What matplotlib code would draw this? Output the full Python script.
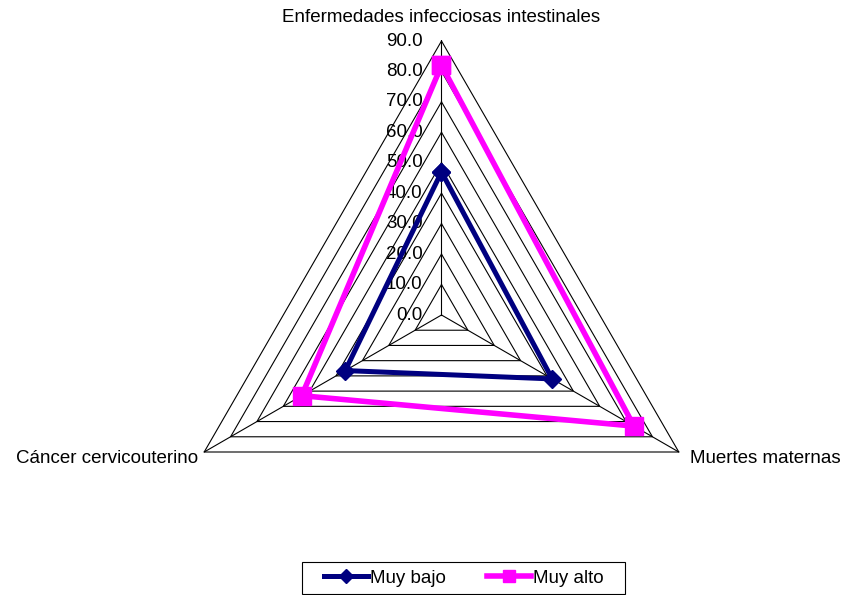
import numpy as np
import matplotlib
matplotlib.use("Agg")
import matplotlib.pyplot as plt
from matplotlib.patches import Rectangle

plt.rcParams['font.family'] = ['Liberation Sans', 'DejaVu Sans']

# Data
categories = ["Enfermedades infecciosas intestinales", "Muertes maternas", "Cáncer cervicouterino"]
muy_bajo = [47.0, 42.0, 36.5]
muy_alto = [82.0, 73.0, 53.0]
levels = [0, 10, 20, 30, 40, 50, 60, 70, 80, 90]
level_labels = ["0.0", "10.0", "20.0", "30.0", "40.0", "50.0", "60.0", "70.0", "80.0", "90.0"]
series_names = ["Muy bajo", "Muy alto"]

FS = 13.5
W, H = 842, 595
fig = plt.figure(figsize=(W / 100, H / 100), dpi=100)

cx, cy, R = 441.5, 315.0, 274.0
ax = fig.add_axes([(cx - R) / W, (H - cy - R) / H, 2 * R / W, 2 * R / H], projection='polar')
ax.set_theta_offset(np.pi / 2)
ax.set_theta_direction(-1)
ax.set_ylim(0, levels[-1])
ax.grid(False)
ax.set_xticks([])
ax.set_yticks([])
ax.spines['polar'].set_visible(False)
ax.patch.set_alpha(0)

n = len(categories)
theta = np.arange(n) * 2 * np.pi / n
theta_closed = np.append(theta, theta[0])

# Triangular grid
for lv in levels[1:]:
    ax.plot(theta_closed, [lv] * (n + 1), color='black', lw=0.8, zorder=1, clip_on=False)
# Spokes
for t in theta:
    ax.plot([t, t], [0, levels[-1]], color='black', lw=0.8, zorder=1, clip_on=False)

# Radial value labels along the top spoke
for lv, lab in zip(levels, level_labels):
    ax.annotate(lab, xy=(0, lv), xytext=(-13.5, 0), textcoords='offset points',
                ha='right', va='center', fontsize=FS, color='black', zorder=2)

# Category labels
ax.annotate(categories[0], xy=(theta[0], levels[-1]), xytext=(0, 17), textcoords='offset points',
            ha='center', va='center', fontsize=FS)
ax.annotate(categories[1], xy=(theta[1], levels[-1]), xytext=(8, -4.5), textcoords='offset points',
            ha='left', va='center', fontsize=FS)
ax.annotate(categories[2], xy=(theta[2], levels[-1]), xytext=(-4.5, -4.5), textcoords='offset points',
            ha='right', va='center', fontsize=FS)

# Series
def closed(v):
    return list(v) + [v[0]]

h1, = ax.plot(theta_closed, closed(muy_bajo), color='#000080', lw=3.6, marker='D',
              markersize=9.5, markerfacecolor='#000080', markeredgecolor='#000080',
              zorder=4, clip_on=False, label=series_names[0])
h2, = ax.plot(theta_closed, closed(muy_alto), color='#FF00FF', lw=4.0, marker='s',
              markersize=13, markerfacecolor='#FF00FF', markeredgecolor='#FF00FF',
              zorder=5, clip_on=False, label=series_names[1])

# Legend with a wide rectangular frame
fig.legend(handles=[h1, h2], loc='center', bbox_to_anchor=(463.5 / W, (H - 578) / H),
           ncol=2, frameon=False, fontsize=FS, handlelength=2.35,
           handletextpad=0.1, columnspacing=2.2, borderpad=0.35, markerscale=0.7)
x0, x1, y0, y1 = 302, 625, 562, 594
fig.patches.append(Rectangle((x0 / W, (H - y1) / H), (x1 - x0) / W, (y1 - y0) / H,
                             transform=fig.transFigure, fill=False, edgecolor='black',
                             linewidth=0.8))

fig.savefig("out.png", dpi=100)
